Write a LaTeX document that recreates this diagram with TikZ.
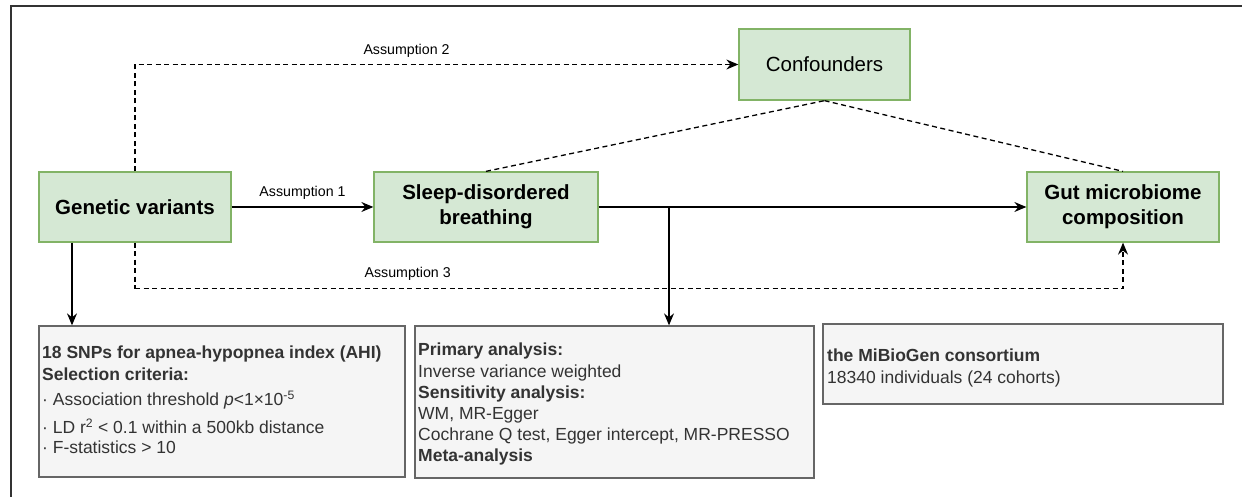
\documentclass[tikz,border=0pt]{standalone}
\usepackage{fontspec}
\setmainfont{Liberation Sans}
\usetikzlibrary{arrows.meta,calc}
\definecolor{gfill}{HTML}{D5E8D4}
\definecolor{gline}{HTML}{82B366}
\definecolor{bfill}{HTML}{F5F5F5}
\definecolor{bline}{HTML}{666666}
\definecolor{btext}{HTML}{333333}
\begin{document}
\begin{tikzpicture}[x=1pt,y=-1pt,
  greenbox/.style={draw=gline,fill=gfill,line width=1.3pt,inner sep=0pt,align=center,
    font=\fontsize{20.5}{25}\selectfont\bfseries},
  greybox/.style={draw=bline,fill=bfill,line width=1.3pt,inner sep=0pt},
  boxtext/.style={anchor=north west,inner sep=0pt,align=left,text=btext,
    font=\fontsize{17.5}{21.2}\selectfont},
  conn/.style={line width=1.3pt,black},
  arr/.style={conn,-{Stealth[length=12pt,width=10pt,inset=4pt]}},
  dashline/.style={conn,dash pattern=on 5pt off 3.5pt},
  lab/.style={font=\fontsize{14.2}{17}\selectfont,inner sep=0pt}
]
\useasboundingbox (0,0) rectangle (1242,497);
\fill[white] (0,0) rectangle (1242,497);
% frame
\draw[line width=1.3pt,black!80] (11,497) -- (11,6) -- (1242,6);

% main nodes
\node[greenbox,minimum width=192pt,minimum height=70pt] (gv) at (135,207) {Genetic variants};
\node[greenbox,minimum width=224pt,minimum height=70pt] (sdb) at (486,207) {Sleep-disordered\\breathing};
\node[greenbox,minimum width=171pt,minimum height=71pt,font=\fontsize{20.5}{25}\selectfont] (conf) at (824.5,64.5) {Confounders};
\node[greenbox,minimum width=192pt,minimum height=70pt] (gut) at (1123,207) {Gut microbiome\\composition};

% grey boxes
\node[greybox,minimum width=366pt,minimum height=151pt] (snp) at (222,401.5) {};
\node[greybox,minimum width=399pt,minimum height=152pt] (ana) at (614.5,402) {};
\node[greybox,minimum width=400pt,minimum height=80pt] (mib) at (1023,364) {};

\node[boxtext] (snpt) at (42,346) {\textbf{18 SNPs for apnea-hypopnea index (AHI)}\\
\textbf{Selection criteria:}\\[4pt]
· Association threshold \textit{p}<1×10\textsuperscript{-5}\\[7pt]
· LD r\textsuperscript{2} < 0.1 within a 500kb distance\\[-1pt]
· F-statistics > 10};
\node[boxtext] (anat) at (418,343) {\textbf{Primary analysis:}\\
Inverse variance weighted\\
\textbf{Sensitivity analysis:}\\
WM, MR-Egger\\
Cochrane Q test, Egger intercept, MR-PRESSO\\
\textbf{Meta-analysis}};
\node[boxtext] (mibt) at (827,349) {\textbf{the MiBioGen consortium}\\
18340 individuals (24 cohorts)};

% connectors
\draw[arr] (gv.east) -- node[lab,above=7pt] {Assumption 1} (sdb.west);
\draw[arr] (sdb.east) -- (gut.west);
\coordinate (br) at (669,207);
\draw[arr] (br) -- (br |- ana.north);
\coordinate (gvd) at ([xshift=-63pt]gv.south);
\draw[arr] (gvd) -- (gvd |- snp.north);
\draw[dashline,-{Stealth[length=12pt,width=10pt,inset=4pt]}] (gv.north) |- node[lab,pos=0.725,above=6pt] {Assumption 2} (conf.west);
\coordinate (a3) at ([yshift=-46pt]gv.south);
\draw[dashline] (gv.south) -- (a3);
\draw[dashline,-{Stealth[length=12pt,width=10pt,inset=4pt]}] (a3) -| node[lab,pos=0.138,above=8pt] {Assumption 3} (gut.south);
\draw[dashline] (sdb.north) -- (conf.south);
\draw[dashline] (conf.south) -- (gut.north);
\end{tikzpicture}
\end{document}
